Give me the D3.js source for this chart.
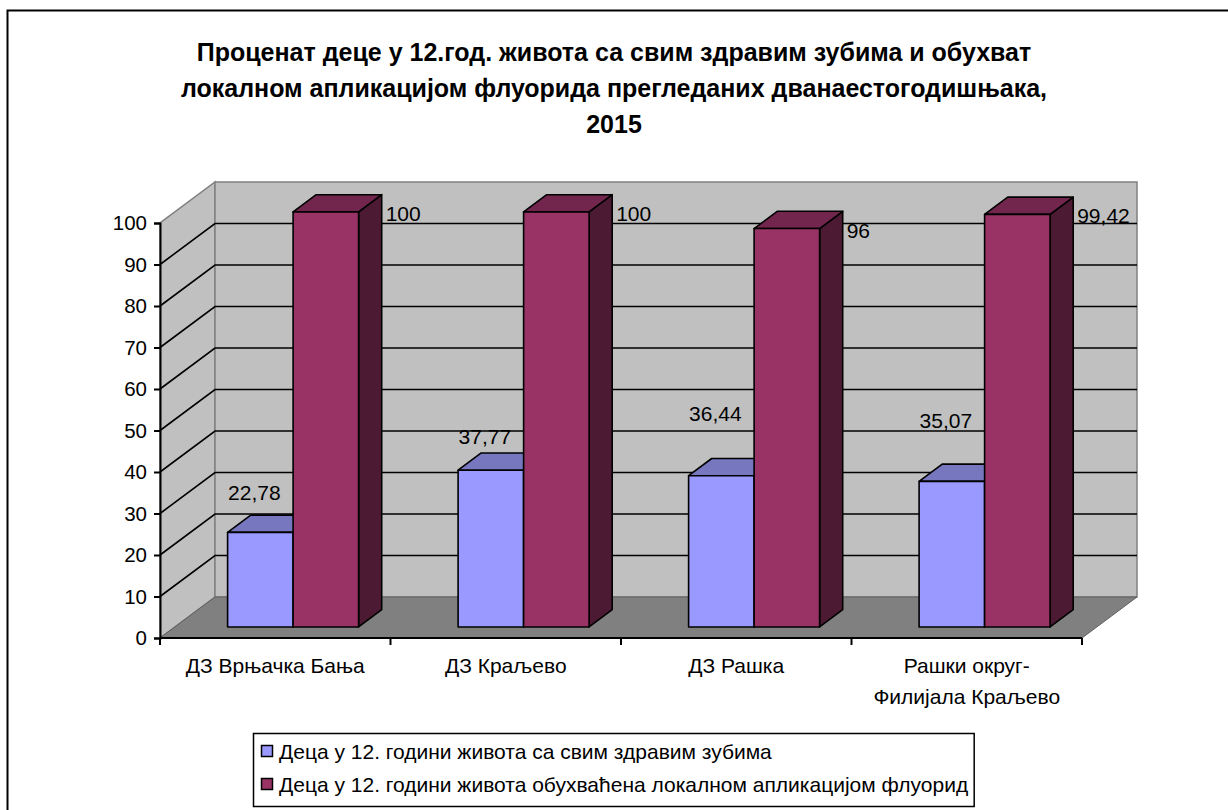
<!DOCTYPE html>
<html>
<head>
<meta charset="utf-8">
<script src="https://cdn.jsdelivr.net/npm/d3@7"></script>
<style>
  body { margin: 0; background: #fff; }
  text { font-family: "Liberation Sans", Arial, sans-serif; }
</style>
</head>
<body>
<div id="chart"></div>
<script>
var svgWidth = 1228;
var svgHeight = 810;

// Data
var titleLines = [
    "Проценат деце у 12.год. живота са свим здравим зубима и обухват",
    "локалном апликацијом флуорида прегледаних дванаестогодишњака,",
    "2015"
];
var categories = [
    ["ДЗ Врњачка Бања"],
    ["ДЗ Краљево"],
    ["ДЗ Рашка"],
    ["Рашки округ-", "Филијала Краљево"]
];
var seriesNames = [
    "Деца у 12. години живота са свим здравим зубима",
    "Деца у 12. години живота обухваћена локалном апликацијом флуорид"
];
var healthyTeeth = [22.78, 37.77, 36.44, 35.07];
var fluoride = [100, 100, 96, 99.42];
var labelsHealthy = ["22,78", "37,77", "36,44", "35,07"];
var labelsFluoride = ["100", "100", "96", "99,42"];
var yTicks = [0, 10, 20, 30, 40, 50, 60, 70, 80, 90, 100];

// Colours: front, top, side
var colors = [
    { front: "#9999FF", top: "#7777C0", side: "#5C5C99" },
    { front: "#993366", top: "#73264D", side: "#4D1A33" }
];

var fs = 21;

var svg = d3.select("#chart").append("svg")
    .attr("width", svgWidth).attr("height", svgHeight);

// Outer frame (right and bottom edges lie outside the picture)
svg.append("rect").attr("x", 7.5).attr("y", 10.5)
    .attr("width", 1240).attr("height", 820)
    .attr("fill", "#fff").attr("stroke", "#000").attr("stroke-width", 2);

// Title
svg.append("g").selectAll("text").data(titleLines).enter().append("text")
    .attr("x", 614).attr("y", (d, i) => 61 + i * 36)
    .attr("text-anchor", "middle")
    .attr("font-size", 25).attr("font-weight", "bold")
    .text(d => d);

// Scales (front plane)
var x = d3.scaleBand().domain(d3.range(categories.length)).range([160, 1082]);
var y = d3.scaleLinear().domain([0, 100]).range([638, 223]);

// depth vector of the whole plot
var depthX = 55, depthY = -41;
function pt(px, v, d) {
    return [px + d * depthX, y(v) + d * depthY];
}
function poly(points) {
    return points.map(p => p.join(",")).join(" ");
}

var xL = 160, xR = 1082;

// Side wall
svg.append("polygon")
    .attr("points", poly([pt(xL, 0, 0), pt(xL, 100, 0), pt(xL, 100, 1), pt(xL, 0, 1)]))
    .attr("fill", "#C0C0C0").attr("stroke", "#808080").attr("stroke-width", 1.5);
// Back wall
svg.append("polygon")
    .attr("points", poly([pt(xL, 0, 1), pt(xL, 100, 1), pt(xR, 100, 1), pt(xR, 0, 1)]))
    .attr("fill", "#C0C0C0").attr("stroke", "#808080").attr("stroke-width", 1.5);
// Floor
svg.append("polygon")
    .attr("points", poly([pt(xL, 0, 0), pt(xL, 0, 1), pt(xR, 0, 1), pt(xR, 0, 0)]))
    .attr("fill", "#808080").attr("stroke", "#606060").attr("stroke-width", 1);

// Gridlines
var grid = svg.append("g").attr("stroke", "#000").attr("stroke-width", 1.6).attr("fill", "none");
yTicks.filter(t => t > 0 && t < 100).forEach(function(t) {
    var a = pt(xL, t, 0), b = pt(xL, t, 1), c = pt(xR, t, 1);
    grid.append("polyline").attr("points", poly([a, b, c]));
});

// Value axis
var yAxis = d3.axisLeft(y).tickValues(yTicks).tickSize(6).tickPadding(7);
var gy = svg.append("g").attr("transform", `translate(${xL},0)`).call(yAxis);
gy.select(".domain").attr("stroke-width", 2);
gy.selectAll(".tick line").attr("stroke-width", 2);
gy.selectAll(".tick text").attr("font-size", fs - 0.5).attr("fill", "#000")
    .attr("font-family", "Liberation Sans, Arial, sans-serif");

// Category axis
var gx = svg.append("g");
gx.append("line").attr("x1", xL).attr("x2", xR).attr("y1", y(0)).attr("y2", y(0))
    .attr("stroke", "#000").attr("stroke-width", 2);
d3.range(categories.length + 1).forEach(function(i) {
    var px = i < categories.length ? x(i) : xR;
    gx.append("line").attr("x1", px).attr("x2", px).attr("y1", y(0)).attr("y2", y(0) + 7)
        .attr("stroke", "#000").attr("stroke-width", 2);
});
categories.forEach(function(lines, i) {
    gx.append("g").selectAll("text").data(lines).enter().append("text")
        .attr("x", x(i) + x.bandwidth() / 2)
        .attr("y", (d, j) => 673 + j * 31)
        .attr("text-anchor", "middle").attr("font-size", fs)
        .text(d => d);
});

// Bars
var dFront = 0.27, dBack = 0.69;
var barW = 65.5;
var groupOffset = (x.bandwidth() - 2 * barW) / 2 + 3;

function drawBar(px, v, c) {
    var g = svg.append("g").attr("stroke", "#000").attr("stroke-width", 1.6).attr("stroke-linejoin", "round");
    var fbl = pt(px, 0, dFront), fbr = pt(px + barW, 0, dFront),
        ftl = pt(px, v, dFront), ftr = pt(px + barW, v, dFront),
        btl = pt(px, v, dBack), btr = pt(px + barW, v, dBack),
        bbr = pt(px + barW, 0, dBack);
    g.append("polygon").attr("points", poly([fbr, ftr, btr, bbr])).attr("fill", c.side);
    g.append("polygon").attr("points", poly([ftl, ftr, btr, btl])).attr("fill", c.top);
    g.append("polygon").attr("points", poly([fbl, ftl, ftr, fbr])).attr("fill", c.front);
}

// manual label nudges (Excel placed these by hand)
var healthyLabelLift = [32, 26, 55, 53];

categories.forEach(function(_, i) {
    var bx = x(i) + groupOffset;
    drawBar(bx, healthyTeeth[i], colors[0]);
    drawBar(bx + barW, fluoride[i], colors[1]);

    var ft = pt(bx, healthyTeeth[i], dFront);
    svg.append("text")
        .attr("x", ft[0] + barW / 2 - 6).attr("y", ft[1] - healthyLabelLift[i])
        .attr("text-anchor", "middle").attr("font-size", fs)
        .text(labelsHealthy[i]);

    var bt = pt(bx + 2 * barW, fluoride[i], dBack);
    var ftf = pt(bx + 2 * barW, fluoride[i], dFront);
    svg.append("text")
        .attr("x", bt[0] + 4).attr("y", ftf[1] + 9)
        .attr("font-size", fs)
        .text(labelsFluoride[i]);
});

// Legend
var legend = svg.append("g");
var legendBox = legend.append("rect").attr("x", 253.5).attr("y", 733.5).attr("height", 73)
    .attr("fill", "#fff").attr("stroke", "#000").attr("stroke-width", 1.5);
var maxLen = 0;
seriesNames.forEach(function(name, i) {
    var cy = 751 + i * 33;
    legend.append("rect").attr("x", 261.5).attr("y", cy - 5.5).attr("width", 11).attr("height", 11)
        .attr("fill", colors[i].front).attr("stroke", "#000").attr("stroke-width", 1.5);
    var t = legend.append("text").attr("x", 279).attr("y", cy + 7.5)
        .attr("font-size", fs).text(name);
    maxLen = Math.max(maxLen, t.node().getComputedTextLength());
});
legendBox.attr("width", 279 + maxLen + 6 - 253.5);
</script>
</body>
</html>
